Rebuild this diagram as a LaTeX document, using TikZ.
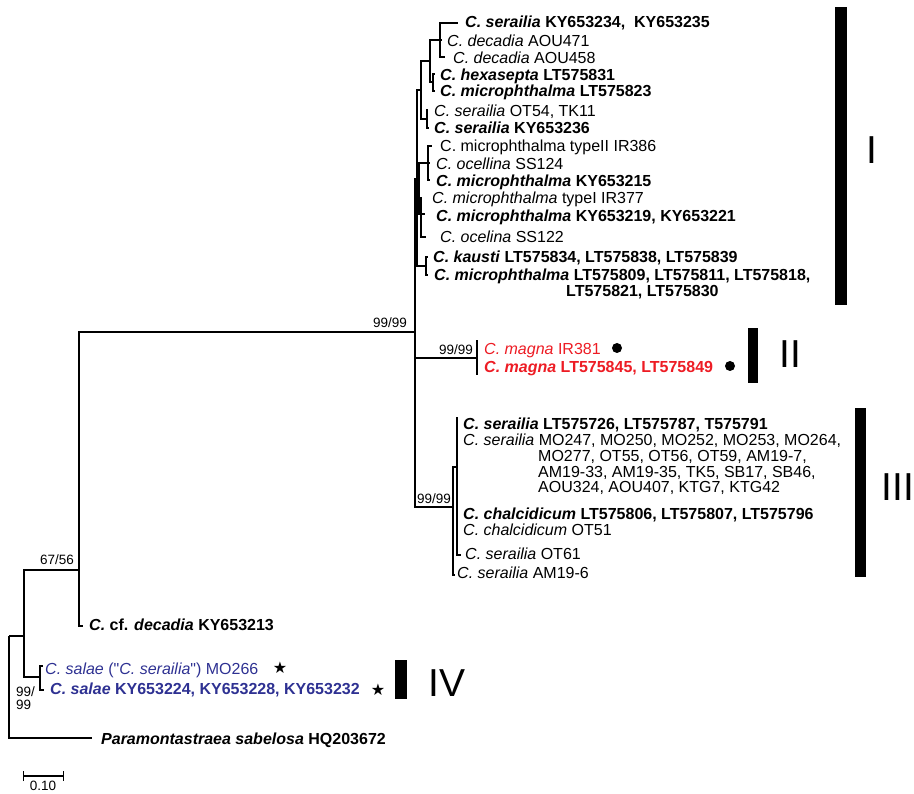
\documentclass[tikz,border=0pt]{standalone}
\usepackage{fontspec}
\setmainfont{Liberation Sans}
\newfontfamily\symfont{DejaVu Sans}
\usepackage{xcolor}
\usepackage{tikz}
\usetikzlibrary{arrows.meta}

\definecolor{magnared}{RGB}{237,28,36}
\definecolor{salaeblue}{RGB}{46,49,146}

\tikzset{
    branch/.style={line width=1.3pt},
    leaf/.style={anchor=west,inner sep=0pt,text height=11.5pt,text depth=0pt,
        font=\fontsize{16}{16}\selectfont},
    support/.style={inner sep=0pt,font=\fontsize{13.5}{13.5}\selectfont},
    roman/.style={inner sep=0pt,font=\fontsize{39}{39}\selectfont},
    dot/.style={circle,fill=black,inner sep=0pt,minimum size=10pt},
}

\begin{document}
\begin{tikzpicture}[x=1pt,y=-1pt]
    \useasboundingbox (0,0) rectangle (914,794);

    % Outgroup and basal nodes
    \coordinate (root) at (9,636);
    \coordinate (tpara) at (92,738);
    \coordinate (ingr) at (24,636);
    \coordinate (n6756) at (79,570);
    \coordinate (tcfdec) at (83,626);
    \coordinate (nsal) at (40,677);
    \coordinate (tsal1) at (43,666);
    \coordinate (tsal2) at (44,690);
    \coordinate (nM) at (415,332);

    % Clade I
    \coordinate (nI) at (417,179);
    \coordinate (nT5) at (421,90);
    \coordinate (nT3) at (430,61);
    \coordinate (nT1) at (440,40);
    \coordinate (t1a) at (458,23);
    \coordinate (t1b) at (442,40);
    \coordinate (t1c) at (445,57);
    \coordinate (nT2) at (433,82);
    \coordinate (t2a) at (435,74);
    \coordinate (t2b) at (435,91);
    \coordinate (nT4) at (427,119);
    \coordinate (t4a) at (428,110);
    \coordinate (t4b) at (429,128);
    \coordinate (nT8) at (419,188);
    \coordinate (nT6) at (428,163);
    \coordinate (t6a) at (432,146);
    \coordinate (t6b) at (430,163);
    \coordinate (t6c) at (430,180);
    \coordinate (nT7) at (421,214);
    \coordinate (t7a) at (421,197);
    \coordinate (t7b) at (425,214);
    \coordinate (t7c) at (426,237);
    \coordinate (nT9) at (426,266);
    \coordinate (t9a) at (428,257);
    \coordinate (t9b) at (428,275);

    % Clade II
    \coordinate (nMag) at (477,358);
    \coordinate (tmag1) at (477,340);
    \coordinate (tmag2) at (477,375);

    % Clade III
    \coordinate (nIII) at (453,507);
    \coordinate (nB) at (457,467);
    \coordinate (tB1) at (457,417);
    \coordinate (tB2) at (457,440);
    \coordinate (tB3) at (457,514);
    \coordinate (tB4) at (457,530);
    \coordinate (tB5) at (461,555);
    \coordinate (tam) at (455,575);

    % Branches
    \foreach \p/\c in {root/ingr,root/tpara,ingr/n6756,ingr/nsal,n6756/nM,n6756/tcfdec,
        nsal/tsal1,nsal/tsal2,nM/nI,nM/nMag,nM/nIII,
        nI/nT5,nI/nT8,nI/nT9,nT5/nT3,nT5/nT4,nT3/nT1,nT3/nT2,
        nT1/t1a,nT1/t1b,nT1/t1c,nT2/t2a,nT2/t2b,nT4/t4a,nT4/t4b,
        nT8/nT6,nT8/nT7,nT6/t6a,nT6/t6b,nT6/t6c,nT7/t7a,nT7/t7b,nT7/t7c,
        nT9/t9a,nT9/t9b,nMag/tmag1,nMag/tmag2,
        nIII/nB,nIII/tam,nB/tB1,nB/tB2,nB/tB3,nB/tB4,nB/tB5} {
        \draw[branch] (\p) |- (\c);
    }

    % Support values
    \node[support,anchor=east] (bsM) at (407,323) {99/99};
    \node[support,anchor=east] (bs6756) at (74,560) {67/56};
    \node[support,anchor=east] (bsMag) at (473,350) {99/99};
    \node[support,anchor=east] (bsIII) at (451,499) {99/99};
    \node[support,anchor=west,align=left] (bsSal) at (16,698) {99/\\99};

    % Clade I labels
    \node[leaf] (l1) at (465,22) {\textbf{\textit{C. serailia} KY653234,~ KY653235}};
    \node[leaf] (l2) at (447,41) {\textit{C. decadia} AOU471};
    \node[leaf] (l3) at (453,58) {\textit{C. decadia} AOU458};
    \node[leaf] (l4) at (440,75) {\textbf{\textit{C. hexasepta} LT575831}};
    \node[leaf] (l5) at (440,91) {\textbf{\textit{C. microphthalma} LT575823}};
    \node[leaf] (l6) at (434,111) {\textit{C. serailia} OT54, TK11};
    \node[leaf] (l7) at (434,128) {\textbf{\textit{C. serailia} KY653236}};
    \node[leaf] (l8) at (440,146) {C. microphthalma typeII IR386};
    \node[leaf] (l9) at (436,164) {\textit{C. ocellina} SS124};
    \node[leaf] (l10) at (436,181) {\textbf{\textit{C. microphthalma} KY653215}};
    \node[leaf] (l11) at (432,198) {\textit{C. microphthalma} typeI IR377};
    \node[leaf] (l12) at (436,216) {\textbf{\textit{C. microphthalma} KY653219, KY653221}};
    \node[leaf] (l13) at (440,237) {\textit{C. ocelina} SS122};
    \node[leaf] (l14) at (433,257) {\textbf{\textit{C. kausti} LT575834, LT575838, LT575839}};
    \node[leaf] (l15) at (434,275) {\textbf{\textit{C. microphthalma} LT575809, LT575811, LT575818,}};
    \node[leaf] (l15b) at (566,291) {\textbf{LT575821, LT575830}};

    % Clade II labels
    \node[leaf,text=magnared] (m1) at (484,349) {\textit{C. magna} IR381};
    \node[leaf,text=magnared] (m2) at (484,367) {\textbf{\textit{C. magna} LT575845, LT575849}};
    \node[dot] (dot1) at (617,348) {};
    \node[dot] (dot2) at (730,366) {};

    % Clade III labels
    \node[leaf] (s1) at (463,424) {\textbf{\textit{C. serailia} LT575726, LT575787, T575791}};
    \node[leaf] (s2) at (463,440) {\textit{C. serailia} MO247, MO250, MO252, MO253, MO264,};
    \node[leaf] (s2b) at (538,456) {MO277, OT55, OT56, OT59, AM19-7,};
    \node[leaf] (s2c) at (538,472) {AM19-33, AM19-35, TK5, SB17, SB46,};
    \node[leaf] (s2d) at (538,487) {AOU324, AOU407, KTG7, KTG42};
    \node[leaf] (s3) at (463,514) {\textbf{\textit{C. chalcidicum} LT575806, LT575807, LT575796}};
    \node[leaf] (s4) at (463,530) {\textit{C. chalcidicum} OT51};
    \node[leaf] (s5) at (465,554) {\textit{C. serailia} OT61};
    \node[leaf] (s6) at (457,573) {\textit{C. serailia} AM19-6};

    % Outgroup labels
    \node[leaf] (o1) at (89,625) {\textbf{\textit{C.} cf. \textit{decadia} KY653213}};
    \node[leaf,text=salaeblue] (o2) at (45,669) {\textit{C. salae} (\textquotedbl\textit{C. serailia}\textquotedbl) MO266};
    \node[leaf,text=salaeblue] (o3) at (50,689) {\textbf{\textit{C. salae} KY653224, KY653228, KY653232}};
    \node[leaf] (o4) at (101,739) {\textbf{\textit{Paramontastraea sabelosa} HQ203672}};
    \node[inner sep=0pt,font=\fontsize{16}{16}\symfont] (star1) at (280,668) {★};
    \node[inner sep=0pt,font=\fontsize{16}{16}\symfont] (star2) at (378,690) {★};

    % Clade bars
    \fill (835,7) rectangle (847,305);
    \fill (748,328) rectangle (758,383);
    \fill (855,408) rectangle (866,577);
    \fill (395,660) rectangle (407,699);
    \node[roman] (cI) at (872,150) {I};
    \node[roman] (cII) at (790,354) {II};
    \node[roman] (cIII) at (898,487) {III};
    \node[roman] (cIV) at (447,683) {IV};

    % Scale bar
    \coordinate (sbl) at (23,776);
    \coordinate (sbr) at (64,776);
    \draw[branch,{Bar[width=10pt]}-{Bar[width=10pt]}] (sbl) -- (sbr);
    \node[support] (sbt) at (43,786) {0.10};

\end{tikzpicture}
\end{document}
